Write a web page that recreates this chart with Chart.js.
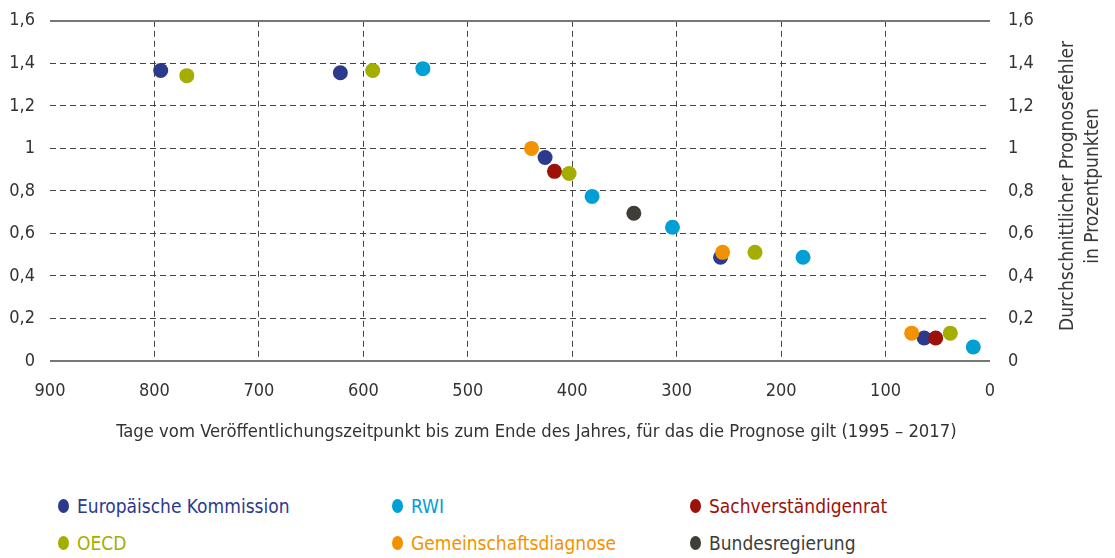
<!DOCTYPE html>
<html lang="de">
<head>
<meta charset="utf-8">
<script src="https://cdn.jsdelivr.net/npm/chart.js@4/dist/chart.umd.min.js"></script>
<style>
  body { margin: 0; background: #fff; font-family: 'Liberation Sans Narrow', 'DejaVu Sans Condensed', sans-serif; }
  #wrap { position: relative; width: 1115px; height: 558px; overflow: hidden; }
  #chart-box { position: absolute; left: 0; top: -8px; width: 1115px; height: 458px; }
  #y2-title { position: absolute; left: 1079px; top: 186px; transform: translate(-50%, -50%) rotate(-90deg);
    white-space: nowrap; text-align: center; font-size: 19px; line-height: 25px; color: #333; }
  .legend-item { position: absolute; display: flex; align-items: center; font-size: 19px; }
  .legend-item .dot { width: 11px; height: 14px; border-radius: 50%; margin-right: 8px; }
</style>
</head>
<body>
<div id="wrap">
  <div id="chart-box"><canvas id="forecastChart"></canvas></div>
  <div id="y2-title">Durchschnittlicher Prognosefehler<br>in Prozentpunkten</div>
  <div id="legend"></div>
</div>
<script>
// Tage bis Jahresende / durchschnittlicher Prognosefehler
const euDays = [794, 622, 426, 258, 63];
const euErr = [1.366, 1.356, 0.957, 0.488, 0.108];
const oecdDays = [769, 591, 403, 225, 38];
const oecdErr = [1.342, 1.366, 0.882, 0.511, 0.131];
const rwiDays = [543, 381, 304, 179, 16];
const rwiErr = [1.375, 0.774, 0.629, 0.488, 0.066];
const svrDays = [417, 52];
const svrErr = [0.892, 0.108];
const gdDays = [439, 256, 75];
const gdErr = [1.0, 0.511, 0.131];
const brDays = [341];
const brErr = [0.695];

const xTicks = [900, 800, 700, 600, 500, 400, 300, 200, 100, 0];
const yTicks = [0, 0.2, 0.4, 0.6, 0.8, 1, 1.2, 1.4, 1.6];

const textColor = '#333';
const fontFamily = "'Liberation Sans Narrow', 'DejaVu Sans Condensed', sans-serif";

const points = (days, err) => days.map((d, i) => ({ x: d, y: err[i] }));

// Reihenfolge der Legende (2 Zeilen, 3 Spalten)
const series = [
    { label: 'Europäische Kommission', data: points(euDays, euErr), color: '#2b3a8d', col: 0, row: 0, z: 1 },
    { label: 'RWI', data: points(rwiDays, rwiErr), color: '#00a0d6', col: 1, row: 0, z: 2 },
    { label: 'Sachverständigenrat', data: points(svrDays, svrErr), color: '#9c1209', col: 2, row: 0, z: 4 },
    { label: 'OECD', data: points(oecdDays, oecdErr), color: '#a4ae00', col: 0, row: 1, z: 3 },
    { label: 'Gemeinschaftsdiagnose', data: points(gdDays, gdErr), color: '#f39200', col: 1, row: 1, z: 5 },
    { label: 'Bundesregierung', data: points(brDays, brErr), color: '#3e3d38', col: 2, row: 1, z: 6 }
];

const fmt = v => (Math.round(v * 10) / 10).toString().replace('.', ',');

// durchgezogene Linien bei 0 und 1,6
const frameLines = {
    id: 'frameLines',
    beforeDatasetsDraw(chart) {
        const { ctx, chartArea, scales } = chart;
        ctx.save();
        ctx.strokeStyle = '#777773';
        ctx.lineWidth = 2;
        [yTicks[0], yTicks[yTicks.length - 1]].forEach(v => {
            const y = Math.round(scales.y.getPixelForValue(v));
            ctx.beginPath();
            ctx.moveTo(chartArea.left, y);
            ctx.lineTo(chartArea.right, y);
            ctx.stroke();
        });
        ctx.restore();
    }
};

const chart = new Chart(document.getElementById('forecastChart').getContext('2d'), {
    type: 'scatter',
    data: {
        datasets: series.map(s => ({
            label: s.label,
            data: s.data,
            backgroundColor: s.color,
            borderWidth: 0,
            pointRadius: 7.5,
            pointHoverRadius: 7.5,
            order: -s.z
        }))
    },
    options: {
        responsive: true,
        maintainAspectRatio: false,
        animation: false,
        layout: { padding: { top: 5, right: 75, left: 0, bottom: 0 } },
        plugins: { legend: { display: false }, tooltip: { enabled: false } },
        scales: {
            x: {
                type: 'linear',
                reverse: true,
                min: 0,
                max: 900,
                afterBuildTicks: s => { s.ticks = xTicks.map(v => ({ value: v })); },
                afterFit: s => { s.height = 89; },
                ticks: { color: textColor, font: { family: fontFamily, size: 18 }, padding: 20 },
                grid: {
                    drawTicks: false,
                    color: c => (c.tick && (c.tick.value === 0 || c.tick.value === 900)) ? 'rgba(0,0,0,0)' : '#444',
                    lineWidth: 1
                },
                border: { display: false, dash: [6, 4] },
                title: {
                    display: true,
                    // führende Leerzeichen rücken den Titel etwas nach rechts wie im Original
                    text: '\u2002\u2002\u2002\u2002Tage vom Veröffentlichungszeitpunkt bis zum Ende des Jahres, für das die Prognose gilt (1995 – 2017)',
                    color: textColor,
                    font: { family: fontFamily, size: 18.3 },
                    padding: { top: 4, bottom: 7 }
                }
            },
            y: {
                position: 'left',
                min: 0,
                max: 1.6,
                afterBuildTicks: s => { s.ticks = yTicks.map(v => ({ value: v })); },
                afterFit: s => { s.width = 50; },
                ticks: { color: textColor, font: { family: fontFamily, size: 18 }, padding: 15, callback: fmt },
                grid: {
                    drawTicks: false,
                    color: c => (c.tick && (c.tick.value === 0 || c.tick.value === 1.6)) ? 'rgba(0,0,0,0)' : '#444',
                    lineWidth: 1
                },
                border: { display: false, dash: [6, 4] }
            },
            y2: {
                position: 'right',
                min: 0,
                max: 1.6,
                afterBuildTicks: s => { s.ticks = yTicks.map(v => ({ value: v })); },
                afterFit: s => { s.width = 50; },
                ticks: { color: textColor, font: { family: fontFamily, size: 18 }, padding: 18, callback: fmt },
                grid: { display: false, drawTicks: false },
                border: { display: false }
            }
        }
    },
    plugins: [frameLines]
});

// HTML-Legende in drei Spalten
const legendEl = document.getElementById('legend');
const colX = [58, 392, 690];
const rowY = [507, 544];
chart.data.datasets.forEach((ds, i) => {
    const s = series[i];
    const item = document.createElement('div');
    item.className = 'legend-item';
    item.style.left = colX[s.col] + 'px';
    item.style.top = (rowY[s.row] - 12) + 'px';
    item.style.color = s.color;
    item.innerHTML = '<span class="dot" style="background:' + ds.backgroundColor + '"></span>' + ds.label;
    legendEl.appendChild(item);
});
</script>
</body>
</html>
